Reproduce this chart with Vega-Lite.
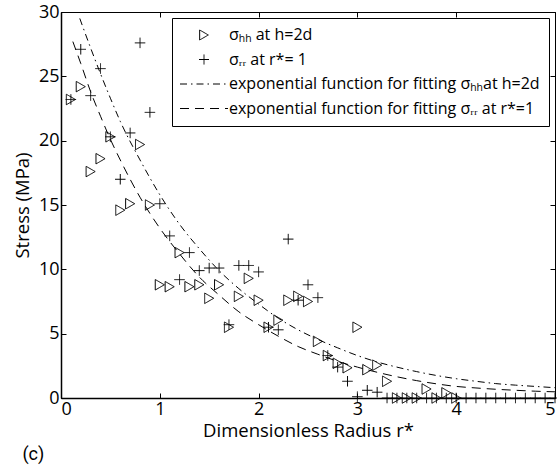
{
  "$schema": "https://vega.github.io/schema/vega-lite/v6.json",
  "width": 494,
  "height": 386,
  "autosize": "none",
  "padding": {"left": 61, "top": 12, "right": 2, "bottom": 70},
  "background": "white",
  "config": {
    "view": {"stroke": "black", "strokeWidth": 1},
    "axis": {
      "grid": false,
      "domainColor": "black",
      "domainWidth": 1.5,
      "tickColor": "black",
      "tickSize": -5,
      "labelFont": "Open Sans",
      "labelFontSize": 18,
      "labelColor": "black",
      "labelPadding": 7,
      "titleFont": "Open Sans",
      "titleFontSize": 18.5,
      "titleFontWeight": "normal",
      "titleColor": "black"
    },
    "legend": {
      "orient": "top-right",
      "offset": 6,
      "strokeColor": "black",
      "strokeWidth": 1,
      "fillColor": "white",
      "padding": 9,
      "labelFont": "Open Sans",
      "labelFontSize": 16,
      "labelColor": "black",
      "labelLimit": 400,
      "symbolSize": 100,
      "symbolStrokeColor": "black",
      "symbolStrokeWidth": 1,
      "symbolFillColor": "transparent",
      "rowPadding": 8.5,
      "labelOffset": 17,
      "symbolOffset": 15
    }
  },
  "title": {
    "text": "(c)",
    "orient": "bottom",
    "anchor": "start",
    "frame": "bounds",
    "font": "Roboto",
    "fontSize": 18,
    "fontWeight": "normal",
    "color": "black",
    "offset": 6,
    "dx": 9
  },
  "datasets": {
    "pts": [
      {"r": 0.1, "s": 23.2, "series": "hh"},
      {"r": 0.2, "s": 24.2, "series": "hh"},
      {"r": 0.3, "s": 17.6, "series": "hh"},
      {"r": 0.4, "s": 18.6, "series": "hh"},
      {"r": 0.5, "s": 20.3, "series": "hh"},
      {"r": 0.6, "s": 14.6, "series": "hh"},
      {"r": 0.7, "s": 15.1, "series": "hh"},
      {"r": 0.8, "s": 19.7, "series": "hh"},
      {"r": 0.9, "s": 15.0, "series": "hh"},
      {"r": 1.0, "s": 8.8, "series": "hh"},
      {"r": 1.1, "s": 8.65, "series": "hh"},
      {"r": 1.2, "s": 11.3, "series": "hh"},
      {"r": 1.3, "s": 8.65, "series": "hh"},
      {"r": 1.4, "s": 8.8, "series": "hh"},
      {"r": 1.5, "s": 7.75, "series": "hh"},
      {"r": 1.6, "s": 8.8, "series": "hh"},
      {"r": 1.7, "s": 5.5, "series": "hh"},
      {"r": 1.8, "s": 7.9, "series": "hh"},
      {"r": 1.9, "s": 9.3, "series": "hh"},
      {"r": 2.0, "s": 7.6, "series": "hh"},
      {"r": 2.1, "s": 5.5, "series": "hh"},
      {"r": 2.2, "s": 6.05, "series": "hh"},
      {"r": 2.3, "s": 7.6, "series": "hh"},
      {"r": 2.4, "s": 7.9, "series": "hh"},
      {"r": 2.5, "s": 7.5, "series": "hh"},
      {"r": 2.6, "s": 4.4, "series": "hh"},
      {"r": 2.7, "s": 3.3, "series": "hh"},
      {"r": 2.8, "s": 2.7, "series": "hh"},
      {"r": 2.9, "s": 2.35, "series": "hh"},
      {"r": 3.0, "s": 5.5, "series": "hh"},
      {"r": 3.1, "s": 2.2, "series": "hh"},
      {"r": 3.2, "s": 2.55, "series": "hh"},
      {"r": 3.3, "s": 1.3, "series": "hh"},
      {"r": 3.4, "s": 0, "series": "hh"},
      {"r": 3.5, "s": 0, "series": "hh"},
      {"r": 3.6, "s": 0, "series": "hh"},
      {"r": 3.7, "s": 0.7, "series": "hh"},
      {"r": 3.8, "s": 0, "series": "hh"},
      {"r": 3.9, "s": 0.4, "series": "hh"},
      {"r": 4.0, "s": 0, "series": "hh"},
      {"r": 0.1, "s": 23.2, "series": "rr"},
      {"r": 0.2, "s": 27.1, "series": "rr"},
      {"r": 0.3, "s": 23.5, "series": "rr"},
      {"r": 0.4, "s": 25.6, "series": "rr"},
      {"r": 0.5, "s": 20.3, "series": "rr"},
      {"r": 0.6, "s": 17.0, "series": "rr"},
      {"r": 0.7, "s": 20.6, "series": "rr"},
      {"r": 0.8, "s": 27.6, "series": "rr"},
      {"r": 0.9, "s": 22.2, "series": "rr"},
      {"r": 1.0, "s": 15.1, "series": "rr"},
      {"r": 1.1, "s": 12.6, "series": "rr"},
      {"r": 1.2, "s": 9.2, "series": "rr"},
      {"r": 1.3, "s": 11.3, "series": "rr"},
      {"r": 1.4, "s": 9.9, "series": "rr"},
      {"r": 1.5, "s": 10.1, "series": "rr"},
      {"r": 1.6, "s": 10.1, "series": "rr"},
      {"r": 1.7, "s": 5.7, "series": "rr"},
      {"r": 1.8, "s": 10.3, "series": "rr"},
      {"r": 1.9, "s": 10.3, "series": "rr"},
      {"r": 2.0, "s": 9.8, "series": "rr"},
      {"r": 2.1, "s": 5.5, "series": "rr"},
      {"r": 2.2, "s": 5.3, "series": "rr"},
      {"r": 2.3, "s": 12.35, "series": "rr"},
      {"r": 2.4, "s": 7.6, "series": "rr"},
      {"r": 2.5, "s": 8.8, "series": "rr"},
      {"r": 2.6, "s": 7.8, "series": "rr"},
      {"r": 2.7, "s": 3.3, "series": "rr"},
      {"r": 2.8, "s": 2.4, "series": "rr"},
      {"r": 2.9, "s": 1.3, "series": "rr"},
      {"r": 3.0, "s": 0.1, "series": "rr"},
      {"r": 3.1, "s": 0.6, "series": "rr"},
      {"r": 3.2, "s": 0.45, "series": "rr"},
      {"r": 3.3, "s": 0, "series": "rr"},
      {"r": 3.4, "s": 0, "series": "rr"},
      {"r": 3.5, "s": 0, "series": "rr"},
      {"r": 3.6, "s": 0, "series": "rr"},
      {"r": 3.7, "s": 0, "series": "rr"},
      {"r": 3.8, "s": 0, "series": "rr"},
      {"r": 3.9, "s": 0, "series": "rr"},
      {"r": 4.0, "s": 0, "series": "rr"},
      {"r": 4.1, "s": 0, "series": "rr"},
      {"r": 4.2, "s": 0, "series": "rr"},
      {"r": 4.3, "s": 0, "series": "rr"},
      {"r": 4.4, "s": 0, "series": "rr"},
      {"r": 4.5, "s": 0, "series": "rr"},
      {"r": 4.6, "s": 0, "series": "rr"},
      {"r": 4.7, "s": 0, "series": "rr"},
      {"r": 4.8, "s": 0, "series": "rr"},
      {"r": 4.9, "s": 0, "series": "rr"},
      {"r": 5.0, "s": 0, "series": "rr"}
    ],
    "fit": [
      {"r": 0.19, "s": 29.5, "series": "fhh"},
      {"r": 0.3, "s": 27.2, "series": "fhh"},
      {"r": 0.4, "s": 25.2, "series": "fhh"},
      {"r": 0.5, "s": 23.3, "series": "fhh"},
      {"r": 0.6, "s": 21.5, "series": "fhh"},
      {"r": 0.8, "s": 18.5, "series": "fhh"},
      {"r": 1.0, "s": 15.8, "series": "fhh"},
      {"r": 1.2, "s": 13.5, "series": "fhh"},
      {"r": 1.4, "s": 11.6, "series": "fhh"},
      {"r": 1.6, "s": 9.9, "series": "fhh"},
      {"r": 1.8, "s": 8.5, "series": "fhh"},
      {"r": 2.0, "s": 7.3, "series": "fhh"},
      {"r": 2.2, "s": 6.2, "series": "fhh"},
      {"r": 2.4, "s": 5.3, "series": "fhh"},
      {"r": 2.6, "s": 4.55, "series": "fhh"},
      {"r": 2.8, "s": 3.9, "series": "fhh"},
      {"r": 3.0, "s": 3.3, "series": "fhh"},
      {"r": 3.2, "s": 2.8, "series": "fhh"},
      {"r": 3.4, "s": 2.4, "series": "fhh"},
      {"r": 3.6, "s": 2.05, "series": "fhh"},
      {"r": 3.8, "s": 1.75, "series": "fhh"},
      {"r": 4.0, "s": 1.5, "series": "fhh"},
      {"r": 4.2, "s": 1.3, "series": "fhh"},
      {"r": 4.4, "s": 1.12, "series": "fhh"},
      {"r": 4.6, "s": 1.0, "series": "fhh"},
      {"r": 4.8, "s": 0.9, "series": "fhh"},
      {"r": 5.0, "s": 0.8, "series": "fhh"},
      {"r": 0.12, "s": 27.7, "series": "frr"},
      {"r": 0.2, "s": 26.0, "series": "frr"},
      {"r": 0.3, "s": 23.8, "series": "frr"},
      {"r": 0.4, "s": 21.9, "series": "frr"},
      {"r": 0.5, "s": 20.1, "series": "frr"},
      {"r": 0.6, "s": 18.5, "series": "frr"},
      {"r": 0.8, "s": 15.6, "series": "frr"},
      {"r": 1.0, "s": 13.2, "series": "frr"},
      {"r": 1.2, "s": 11.2, "series": "frr"},
      {"r": 1.4, "s": 9.4, "series": "frr"},
      {"r": 1.6, "s": 8.0, "series": "frr"},
      {"r": 1.8, "s": 6.7, "series": "frr"},
      {"r": 2.0, "s": 5.7, "series": "frr"},
      {"r": 2.2, "s": 4.8, "series": "frr"},
      {"r": 2.4, "s": 4.0, "series": "frr"},
      {"r": 2.6, "s": 3.4, "series": "frr"},
      {"r": 2.8, "s": 2.85, "series": "frr"},
      {"r": 3.0, "s": 2.4, "series": "frr"},
      {"r": 3.2, "s": 2.0, "series": "frr"},
      {"r": 3.4, "s": 1.65, "series": "frr"},
      {"r": 3.6, "s": 1.35, "series": "frr"},
      {"r": 3.8, "s": 1.1, "series": "frr"},
      {"r": 4.0, "s": 0.9, "series": "frr"},
      {"r": 4.2, "s": 0.78, "series": "frr"},
      {"r": 4.4, "s": 0.68, "series": "frr"},
      {"r": 4.6, "s": 0.6, "series": "frr"},
      {"r": 4.8, "s": 0.53, "series": "frr"},
      {"r": 5.0, "s": 0.48, "series": "frr"}
    ]
  },
  "layer": [
    {
      "data": {"name": "fit"},
      "mark": {"type": "line", "color": "black", "strokeWidth": 1, "interpolate": "monotone"},
      "encoding": {
        "x": {
          "field": "r", "type": "quantitative",
          "scale": {"domain": [0, 5], "nice": false},
          "axis": {"orient": "bottom", "values": [0, 1, 2, 3, 4, 5], "title": "Dimensionless Radius r*", "titlePadding": 3}
        },
        "y": {
          "field": "s", "type": "quantitative",
          "scale": {"domain": [0, 30], "nice": false},
          "axis": {"orient": "left", "values": [0, 5, 10, 15, 20, 25, 30], "title": "Stress  (MPa)", "titlePadding": 6}
        },
        "strokeDash": {
          "field": "series", "type": "nominal",
          "scale": {"domain": ["hh", "rr", "fhh", "frr"], "range": [[1, 0], [1, 0], [7, 4, 1.5, 4], [9, 6]]},
          "legend": {
            "title": null,
            "labelExpr": "datum.value == 'hh' ? 'σₕₕ at h=2d' : datum.value == 'rr' ? 'σᵣᵣ  at r*= 1' : datum.value == 'fhh' ? 'exponential function for fitting σₕₕat h=2d' : 'exponential function for fitting σᵣᵣ at r*=1'"
          }
        }
      }
    },
    {
      "data": {"name": "pts"},
      "mark": {"type": "point", "filled": false, "color": "black", "strokeWidth": 1, "size": 110, "opacity": 1},
      "encoding": {
        "x": {
          "field": "r", "type": "quantitative",
          "axis": {"orient": "top", "values": [0, 1, 2, 3, 4, 5], "labels": false, "title": null, "domain": false}
        },
        "y": {
          "field": "s", "type": "quantitative",
          "axis": {"orient": "right", "values": [0, 5, 10, 15, 20, 25, 30], "labels": false, "title": null, "domain": false}
        },
        "shape": {
          "field": "series", "type": "nominal",
          "scale": {"domain": ["hh", "rr", "fhh", "frr"], "range": ["triangle-right", "M-1,0H1M0,-1V1", "M-4.8,0H4.8", "M-4.8,0H4.8"]},
          "legend": {
            "title": null,
            "labelExpr": "datum.value == 'hh' ? 'σₕₕ at h=2d' : datum.value == 'rr' ? 'σᵣᵣ  at r*= 1' : datum.value == 'fhh' ? 'exponential function for fitting σₕₕat h=2d' : 'exponential function for fitting σᵣᵣ at r*=1'"
          }
        },
        "strokeDash": {"field": "series", "type": "nominal"}
      }
    }
  ],
  "resolve": {"axis": {"x": "independent", "y": "independent"}}
}
